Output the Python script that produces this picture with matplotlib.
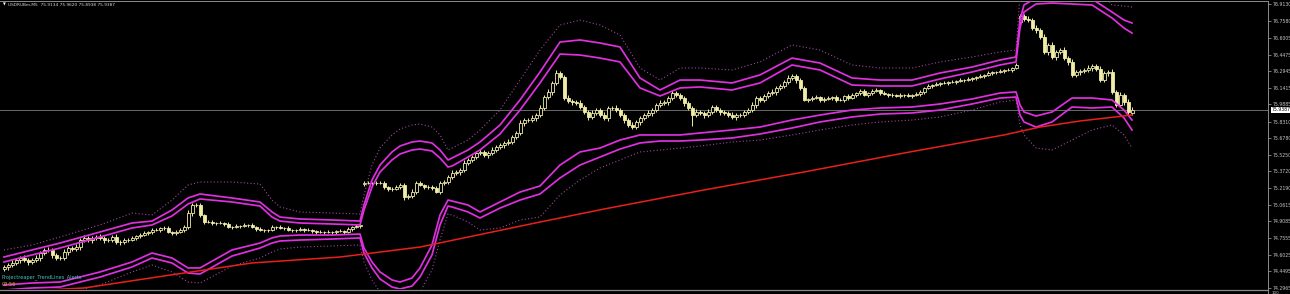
import matplotlib
matplotlib.use("Agg")
import matplotlib.pyplot as plt
import numpy as np
from matplotlib.lines import Line2D

# ---------------- data (USDRUBm, M5) ----------------
closes = [
    74.488, 74.506, 74.525, 74.552, 74.571, 74.552, 74.534, 74.552, 74.571, 74.617,
    74.645, 74.645, 74.599, 74.571, 74.571, 74.626, 74.663, 74.654, 74.672, 74.737,
    74.756, 74.737, 74.756, 74.765, 74.756, 74.737, 74.737, 74.765, 74.719, 74.719,
    74.737, 74.737, 74.756, 74.774, 74.783, 74.802, 74.811, 74.829, 74.829, 74.848,
    74.848, 74.811, 74.802, 74.811, 74.829, 74.857, 74.986, 75.060, 75.060, 74.968,
    74.903, 74.903, 74.894, 74.894, 74.894, 74.885, 74.857, 74.857, 74.866, 74.866,
    74.876, 74.876, 74.857, 74.839, 74.829, 74.829, 74.829, 74.857, 74.857, 74.848,
    74.848, 74.829, 74.829, 74.829, 74.839, 74.829, 74.829, 74.820, 74.811, 74.811,
    74.811, 74.811, 74.811, 74.820, 74.820, 74.811, 74.839, 74.857, 74.866, 74.876,
    75.263, 75.263, 75.263, 75.263, 75.263, 75.226, 75.208, 75.208, 75.226, 75.245,
    75.134, 75.143, 75.180, 75.263, 75.245, 75.226, 75.226, 75.217, 75.180, 75.263,
    75.273, 75.319, 75.356, 75.365, 75.383, 75.448, 75.476, 75.503, 75.540, 75.550,
    75.522, 75.540, 75.568, 75.596, 75.614, 75.633, 75.642, 75.688, 75.725, 75.817,
    75.845, 75.845, 75.864, 75.891, 75.956, 76.057, 76.104, 76.187, 76.279, 76.242,
    76.048, 76.020, 76.011, 76.002, 75.965, 75.919, 75.873, 75.910, 75.937, 75.891,
    75.864, 75.956, 75.956, 75.937, 75.891, 75.845, 75.799, 75.780, 75.827, 75.864,
    75.891, 75.910, 75.937, 75.984, 76.002, 76.011, 76.048, 76.094, 76.076, 76.048,
    76.002, 75.956, 75.891, 75.919, 75.910, 75.891, 75.919, 75.965, 75.937, 75.919,
    75.910, 75.891, 75.873, 75.891, 75.891, 75.919, 75.937, 75.984, 76.048, 76.030,
    76.067, 76.094, 76.104, 76.141, 76.159, 76.196, 76.233, 76.251, 76.214, 76.141,
    76.030, 76.039, 76.048, 76.057, 76.030, 76.039, 76.048, 76.057, 76.030, 76.030,
    76.067, 76.048, 76.076, 76.094, 76.113, 76.076, 76.094, 76.113, 76.122, 76.094,
    76.085, 76.076, 76.076, 76.067, 76.076, 76.076, 76.067, 76.076, 76.085, 76.104,
    76.141, 76.159, 76.168, 76.177, 76.187, 76.187, 76.196, 76.196, 76.205, 76.214,
    76.214, 76.224, 76.233, 76.242, 76.251, 76.261, 76.279, 76.288, 76.288, 76.297,
    76.307, 76.307, 76.325, 76.353, 76.805, 76.778, 76.768, 76.694, 76.676, 76.611,
    76.473, 76.538, 76.427, 76.473, 76.491, 76.417, 76.381, 76.261, 76.288, 76.297,
    76.307, 76.325, 76.344, 76.316, 76.214, 76.279, 76.288, 76.104, 75.984, 76.076,
    76.011, 75.915, 75.9387,
]
first_open = 74.470
gap_opens = {90: 75.254, 254: 76.750, 282: 75.9134}

wick_up = [
    .02, .02, .03, .02, .02, .03, .02, .02, .03, .02,
    .02, .03, .02, .02, .02, .03, .02, .02, .03, .02,
    .03, .02, .02, .02, .03, .02, .02, .02, .03, .02,
    .02, .02, .02, .01, .02, .02, .01, .02, .02, .01,
    .02, .02, .01, .02, .02, .02, .03, .02, .02, .02,
    .01, .02, .02, .01, .02, .01, .02, .01, .02, .01,
    .02, .01, .02, .01, .02, .01, .01, .02, .01, .02,
    .01, .02, .01, .01, .02, .01, .02, .01, .01, .02,
    .01, .02, .01, .01, .02, .01, .02, .01, .02, .02,
    .02, .02, .01, .02, .02, .02, .01, .02, .02, .02,
    .02, .02, .03, .02, .02, .01, .02, .02, .02, .02,
    .02, .02, .03, .02, .02, .03, .02, .02, .02, .03,
    .02, .02, .03, .02, .02, .02, .03, .02, .02, .03,
    .02, .02, .03, .02, .03, .02, .03, .02, .03, .02,
    .02, .03, .02, .02, .03, .02, .02, .03, .02, .02,
    .03, .02, .02, .03, .02, .02, .02, .03, .02, .02,
    .02, .03, .02, .02, .03, .02, .02, .03, .02, .02,
    .02, .02, .02, .03, .02, .02, .03, .02, .02, .02,
    .02, .02, .03, .02, .02, .02, .02, .03, .02, .02,
    .02, .02, .03, .02, .02, .02, .03, .02, .02, .02,
    .02, .01, .02, .02, .01, .02, .02, .01, .02, .02,
    .01, .02, .02, .01, .02, .02, .01, .02, .02, .01,
    .02, .01, .02, .01, .02, .01, .02, .01, .02, .02,
    .01, .02, .01, .02, .01, .02, .01, .02, .01, .02,
    .01, .02, .01, .01, .02, .01, .02, .01, .01, .02,
    .01, .02, .01, .02, .02, .02, .03, .02, .03, .02,
    .03, .02, .03, .02, .02, .03, .02, .03, .02, .02,
    .02, .03, .02, .02, .03, .02, .02, .03, .02, .03,
    .02, .03, .0233,
]
wick_dn = [
    .02, .03, .02, .02, .03, .02, .03, .02, .02, .03,
    .02, .02, .03, .02, .02, .02, .03, .02, .02, .03,
    .02, .02, .03, .02, .02, .03, .02, .02, .02, .03,
    .02, .02, .01, .02, .02, .01, .02, .02, .01, .02,
    .02, .01, .02, .02, .01, .02, .02, .03, .02, .02,
    .02, .01, .02, .02, .01, .02, .01, .02, .01, .02,
    .01, .02, .01, .02, .01, .02, .02, .01, .02, .01,
    .02, .01, .02, .02, .01, .02, .01, .02, .02, .01,
    .02, .01, .02, .02, .01, .02, .01, .02, .01, .02,
    .02, .01, .02, .02, .01, .02, .02, .02, .01, .02,
    .03, .02, .02, .02, .01, .02, .02, .02, .01, .02,
    .02, .02, .02, .02, .03, .02, .02, .02, .02, .02,
    .02, .03, .02, .02, .02, .03, .02, .02, .02, .02,
    .03, .02, .02, .03, .02, .02, .02, .03, .02, .02,
    .02, .02, .03, .02, .02, .02, .03, .02, .02, .02,
    .02, .03, .02, .02, .02, .03, .02, .02, .02, .03,
    .02, .02, .03, .02, .02, .02, .03, .02, .02, .02,
    .03, .02, .10, .02, .02, .03, .02, .02, .02, .03,
    .02, .02, .02, .03, .02, .02, .02, .02, .03, .02,
    .02, .02, .02, .03, .02, .02, .02, .02, .03, .02,
    .01, .02, .02, .01, .02, .02, .01, .02, .02, .01,
    .02, .02, .01, .02, .02, .01, .02, .02, .01, .02,
    .01, .02, .02, .01, .02, .02, .01, .02, .01, .02,
    .02, .01, .02, .01, .02, .01, .02, .01, .02, .01,
    .02, .01, .02, .02, .01, .02, .01, .02, .02, .01,
    .02, .01, .02, .01, .02, .02, .02, .02, .03, .02,
    .02, .03, .02, .03, .02, .02, .03, .02, .02, .03,
    .02, .02, .03, .02, .02, .02, .03, .02, .02, .02,
    .03, .02, .0196,
]

# envelope / band indicator, read at these bar numbers
band_idx = [0, 7, 14, 24, 32, 37, 42, 46, 49, 57,
            64, 67, 69, 74, 82, 89, 90, 92, 94, 97,
            99, 102, 104, 107, 109, 111, 112, 116, 119, 124,
            129, 134, 139, 144, 149, 154, 159, 164, 169, 174,
            182, 189, 197, 204, 212, 219, 227, 234, 242, 249,
            253, 254, 255, 258, 262, 267, 272, 277, 280, 282]
upper_outer = [74.580, 74.645, 74.709, 74.811, 74.894, 74.912, 75.014, 75.125, 75.162, 75.125,
               75.088, 74.996, 74.949, 74.931, 74.922, 74.912, 75.060, 75.291, 75.429, 75.550,
               75.605, 75.642, 75.651, 75.633, 75.568, 75.476, 75.494, 75.568, 75.642, 75.799,
               76.030, 76.288, 76.565, 76.584, 76.556, 76.519, 76.233, 76.122, 76.214, 76.214,
               76.187, 76.261, 76.417, 76.371, 76.233, 76.214, 76.214, 76.279, 76.334, 76.399,
               76.427, 76.768, 76.907, 76.971, 76.981, 76.971, 76.962, 76.842, 76.768, 76.741]
upper_inner = [74.534, 74.599, 74.663, 74.765, 74.848, 74.876, 74.959, 75.069, 75.116, 75.088,
               75.051, 74.949, 74.912, 74.894, 74.885, 74.876, 75.014, 75.226, 75.365, 75.476,
               75.531, 75.568, 75.577, 75.559, 75.494, 75.411, 75.420, 75.503, 75.568, 75.716,
               75.937, 76.187, 76.454, 76.445, 76.417, 76.381, 76.141, 76.067, 76.141, 76.150,
               76.122, 76.187, 76.353, 76.307, 76.168, 76.159, 76.159, 76.224, 76.288, 76.353,
               76.381, 76.694, 76.842, 76.916, 76.925, 76.916, 76.907, 76.787, 76.694, 76.648]
lower_inner = [74.322, 74.340, 74.349, 74.442, 74.534, 74.617, 74.571, 74.479, 74.479, 74.645,
               74.709, 74.756, 74.774, 74.783, 74.783, 74.792, 74.663, 74.534, 74.442, 74.368,
               74.349, 74.386, 74.479, 74.691, 74.968, 75.106, 75.097, 75.060, 74.996, 75.088,
               75.180, 75.236, 75.429, 75.550, 75.586, 75.660, 75.707, 75.707, 75.707, 75.725,
               75.753, 75.780, 75.845, 75.891, 75.937, 75.956, 75.965, 75.993, 76.039, 76.094,
               76.104, 75.984, 75.919, 75.882, 75.919, 76.048, 76.048, 76.030, 75.937, 75.845]
lower_outer = [74.275, 74.294, 74.303, 74.395, 74.488, 74.571, 74.525, 74.432, 74.423, 74.589,
               74.663, 74.709, 74.728, 74.737, 74.746, 74.756, 74.617, 74.479, 74.377, 74.303,
               74.285, 74.312, 74.395, 74.599, 74.876, 75.051, 75.042, 74.996, 74.940, 75.032,
               75.106, 75.162, 75.310, 75.429, 75.503, 75.577, 75.633, 75.651, 75.651, 75.660,
               75.679, 75.716, 75.771, 75.827, 75.873, 75.900, 75.910, 75.937, 75.993, 76.048,
               76.057, 75.891, 75.827, 75.780, 75.827, 75.965, 75.956, 75.965, 75.864, 75.753]
dotted_upper = [74.645, 74.691, 74.765, 74.876, 74.986, 74.968, 75.106, 75.245, 75.273, 75.273,
                75.254, 75.106, 75.042, 74.996, 74.986, 74.977, 75.153, 75.429, 75.586, 75.707,
                75.762, 75.799, 75.808, 75.780, 75.707, 75.568, 75.586, 75.660, 75.753, 75.937,
                76.214, 76.491, 76.722, 76.768, 76.722, 76.630, 76.325, 76.214, 76.325, 76.325,
                76.307, 76.381, 76.538, 76.491, 76.353, 76.325, 76.325, 76.381, 76.427, 76.473,
                76.491, 76.999, 77.138, 77.230, 77.230, 77.184, 77.138, 76.907, 76.898, 76.888]
dotted_lower = [74.202, 74.220, 74.229, 74.322, 74.442, 74.506, 74.442, 74.349, 74.340, 74.497,
                74.571, 74.626, 74.654, 74.672, 74.682, 74.691, 74.534, 74.368, 74.257, 74.183,
                74.165, 74.183, 74.257, 74.460, 74.737, 74.977, 74.968, 74.903, 74.829, 74.848,
                74.922, 74.949, 75.153, 75.291, 75.402, 75.476, 75.550, 75.568, 75.586, 75.605,
                75.642, 75.660, 75.707, 75.753, 75.799, 75.827, 75.845, 75.873, 75.937, 76.011,
                76.030, 75.799, 75.707, 75.586, 75.568, 75.660, 75.753, 75.799, 75.707, 75.586]

# long moving average (red)
ma_idx = [0, 20, 40, 62, 84, 104, 134, 150, 175, 200, 225, 250, 259, 269, 282]
ma_vals = [74.257, 74.294, 74.405, 74.525, 74.580, 74.672, 74.903, 75.023,
           75.199, 75.365, 75.540, 75.707, 75.780, 75.836, 75.891]

price_ticks = [76.9130, 76.7580, 76.6005, 76.4475, 76.2945, 76.1415, 75.9885, 75.8310,
               75.6780, 75.5250, 75.3720, 75.2190, 75.0615, 74.9085, 74.7555, 74.6025,
               74.4495, 74.2965]
bid = 75.9387
header = "USDRUBm,M5  75.9134 75.9620 75.8938 75.9387"
indicator_name = "Projectreaper_TrendLines_Alerts"
timer = "03:56"

# ---------------- styling ----------------
BG = "black"
CANDLE = "#F0EDA6"
MAG = "#DE30DE"
DOT = "#9A4A9A"
RED = "#E8201C"
GRID = "#8C8C8C"
LBL = "#C8C8C8"

W, H = 1290, 294
fig = plt.figure(figsize=(W / 100, H / 100), dpi=100, facecolor=BG)
ax = fig.add_axes([0, 5 / H, 1268 / W, 288 / H], facecolor=BG)

n = len(closes)
opens = [first_open] + closes[:-1]
for k, v in gap_opens.items():
    opens[k] = v
o = np.array(opens)
c = np.array(closes)
hi = np.maximum(o, c) + np.array(wick_up)
lo = np.minimum(o, c) - np.array(wick_dn)
idx = np.arange(n)
bull = c >= o

ax.axhline(bid, color="#7A7A7A", lw=0.6, zorder=1)
ax.vlines(idx, lo, hi, color=CANDLE, lw=0.7, zorder=3)
body = np.maximum(np.abs(c - o), 0.0012)
ax.bar(idx[bull], body[bull], bottom=o[bull], width=0.75, facecolor=BG,
       edgecolor=CANDLE, linewidth=0.6, zorder=4)
ax.bar(idx[~bull], body[~bull], bottom=c[~bull], width=0.75, facecolor=CANDLE,
       edgecolor=CANDLE, linewidth=0.6, zorder=4)

for series in (upper_outer, upper_inner, lower_inner, lower_outer):
    ax.plot(band_idx, series, color=MAG, lw=1.25, zorder=5, solid_joinstyle="round")
for series in (dotted_upper, dotted_lower):
    ax.plot(band_idx, series, color=DOT, lw=0.8, ls=(0, (1, 2)), zorder=5)
ax.plot(ma_idx, ma_vals, color=RED, lw=1.1, zorder=6)

ax.set_xlim(-1, 316)
ax.set_ylim(74.2847, 76.9438)
ax.set_xticks([])
ax.yaxis.tick_right()
ax.set_yticks(price_ticks)
ax.set_yticklabels([f"{t:.4f}" for t in price_ticks])
ax.tick_params(axis="y", length=2.5, width=0.6, color=GRID, labelsize=3.3,
               labelcolor=LBL, pad=1)
for s in ("left", "bottom"):
    ax.spines[s].set_visible(False)
for s in ("top", "right"):
    ax.spines[s].set_color(GRID)
    ax.spines[s].set_linewidth(0.7)

ax.annotate(f"{bid:.4f}", xy=(1, bid), xycoords=("axes fraction", "data"),
            xytext=(2.3, 0), textcoords="offset points", fontsize=3.3, color="black",
            va="center", ha="left",
            bbox=dict(boxstyle="square,pad=0.12", fc="white", ec="white", lw=0))

# header and labels
fig.text(2.5 / W, 1 - 5 / H, "\u25BC", fontsize=2.6, color="white", va="center", ha="left")
fig.text(8 / W, 1 - 5 / H, header, fontsize=3.1, color="#D8D8D8", va="center", ha="left")
fig.text(2 / W, 1 - 277.5 / H, indicator_name, fontsize=3.6, color="#45C4C0",
         va="center", ha="left")
fig.text(2 / W, 1 - 285 / H, timer, fontsize=3.6, color="#E8B040", va="center", ha="left")

# separator to the sub-window and its scale
fig.add_artist(Line2D([0, 1268 / W], [1 - 289.6 / H] * 2, color=GRID, lw=0.9))
fig.add_artist(Line2D([1268 / W] * 2, [0, 1 - 289 / H], color=GRID, lw=0.7))
fig.text(1272 / W, 1 - 293 / H, "100", fontsize=3.0, color=LBL, va="center", ha="left")

fig.savefig("out.png", dpi=100, facecolor=BG)
